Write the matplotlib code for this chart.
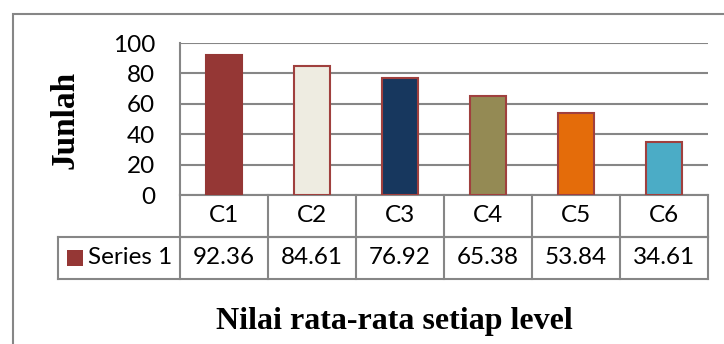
import matplotlib.pyplot as plt
from matplotlib.patches import Rectangle
from matplotlib.lines import Line2D
import matplotlib.transforms as mtransforms

categories = ["C1", "C2", "C3", "C4", "C5", "C6"]
values = [92.36, 84.61, 76.92, 65.38, 53.84, 34.61]
series_name = "Series 1"
y_ticks = [0, 20, 40, 60, 80, 100]
bar_colors = ["#953735", "#EEECE1", "#17375E", "#948A54", "#E46C0A", "#4BACC6"]
title = "Nilai rata-rata setiap level"
ylabel = "Junlah"

W, H = 724, 344
fig = plt.figure(figsize=(W / 100, H / 100), dpi=100)
fig.patch.set_facecolor("white")

grid_c = "#868686"
sans = ["Lato", "DejaVu Sans"]
serif = ["Liberation Serif", "DejaVu Serif"]
fs = 17.5

def fx(px):
    return px / W

def fy(py):
    return 1 - py / H

# outer chart frame
fig.add_artist(Rectangle((fx(13), fy(400)), fx(760) - fx(13), fy(14) - fy(400),
                         transform=fig.transFigure, fill=False,
                         edgecolor=grid_c, linewidth=1.5))

left, right, top, bottom = 180, 708, 43, 195
ax = fig.add_axes([fx(left), fy(bottom), fx(right) - fx(left), fy(top) - fy(bottom)])
ax.set_xlim(-0.5, len(categories) - 0.5)
ax.set_ylim(0, 100)
for s in ["top", "right", "bottom"]:
    ax.spines[s].set_visible(False)
ax.spines["left"].set_color(grid_c)
ax.spines["left"].set_linewidth(1.5)
ax.set_yticks(y_ticks)
ax.set_yticklabels([str(t) for t in y_ticks], fontfamily=sans, fontsize=fs)
ax.tick_params(axis="y", length=0, pad=18)
ax.set_xticks([])
for t in y_ticks:
    ax.axhline(t, color=grid_c, linewidth=1.5, zorder=1)

xs = list(range(len(categories)))
for i, (v, c) in enumerate(zip(values, bar_colors)):
    ec = c if i == 0 else "#A0403E"
    ax.bar(xs[i], v, width=0.41, color=c, edgecolor=ec, linewidth=1.5, zorder=3)

# data table below the axis
trans = mtransforms.blended_transform_factory(ax.transData, ax.transAxes)
axh = bottom - top
row_h = 42 / axh
tbl_left_px = 58
tbl_left = ax.transData.inverted().transform(
    (fig.transFigure.transform((fx(tbl_left_px), 0))))[0]
n = len(categories)

def hline(x0, x1, y):
    ax.add_line(Line2D([x0, x1], [y, y], transform=trans, color=grid_c,
                       linewidth=1.5, clip_on=False))

def vline(x, y0, y1):
    ax.add_line(Line2D([x, x], [y0, y1], transform=trans, color=grid_c,
                       linewidth=1.5, clip_on=False))

hline(-0.5, n - 0.5, -row_h)
hline(tbl_left, n - 0.5, -row_h)
hline(tbl_left, n - 0.5, -2 * row_h)
hline(-0.5, n - 0.5, 0)
for k in range(n + 1):
    vline(k - 0.5, 0, -2 * row_h)
vline(tbl_left, -row_h, -2 * row_h)

for i, cat in enumerate(categories):
    ax.text(xs[i], -0.5 * row_h, cat, transform=trans, ha="center", va="center",
            fontfamily=sans, fontsize=fs)
    ax.text(xs[i], -1.5 * row_h, f"{values[i]:.2f}", transform=trans,
            ha="center", va="center", fontfamily=sans, fontsize=fs)

sq = 16
fig.add_artist(Rectangle((fx(67), fy(266)), fx(sq), fy(0) - fy(sq),
                         transform=fig.transFigure, facecolor=bar_colors[0],
                         edgecolor="none"))
fig.text(fx(88), fy(258), series_name, ha="left", va="center",
         fontfamily=sans, fontsize=fs)

fig.text(fx(65), fy(120), ylabel, rotation=90, ha="center", va="center",
         fontfamily=serif, fontweight="bold", fontsize=24)
fig.text(fx(394), fy(322), title, ha="center", va="center",
         fontfamily=serif, fontweight="bold", fontsize=23)

fig.savefig("out.png", dpi=100)
